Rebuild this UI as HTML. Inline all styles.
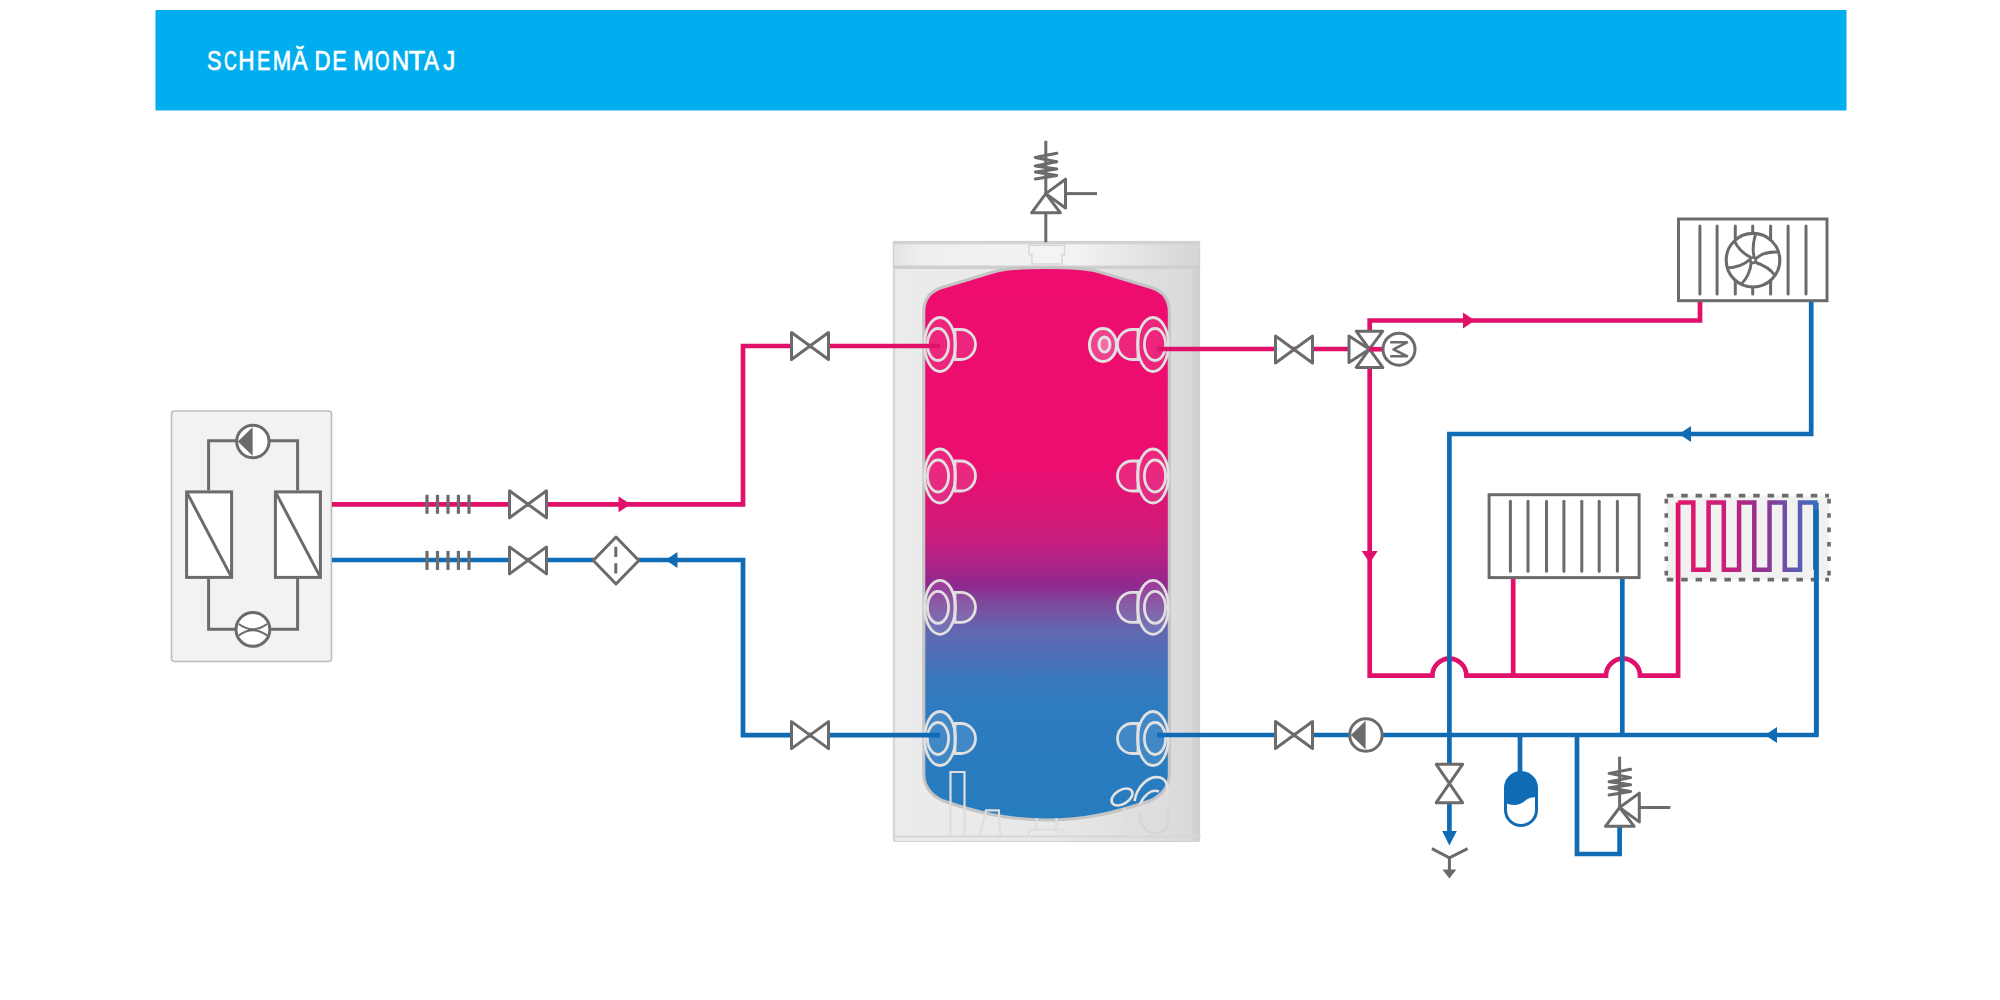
<!DOCTYPE html>
<html><head><meta charset="utf-8">
<style>html,body{margin:0;padding:0;background:#fff;width:2000px;height:1000px;overflow:hidden}svg{display:block}</style>
</head><body>
<svg width="2000" height="1000" viewBox="0 0 2000 1000">
<defs>
<linearGradient id="tankgrad" gradientUnits="userSpaceOnUse" x1="0" y1="269" x2="0" y2="818.5">
<stop offset="0" stop-color="#EE0D6E"/>
<stop offset="0.36" stop-color="#EB0E70"/>
<stop offset="0.46" stop-color="#D31A78"/>
<stop offset="0.5" stop-color="#C21F80"/>
<stop offset="0.54" stop-color="#AB2387"/>
<stop offset="0.577" stop-color="#8F298F"/>
<stop offset="0.61" stop-color="#7C4A9C"/>
<stop offset="0.66" stop-color="#6168B2"/>
<stop offset="0.75" stop-color="#3878BD"/>
<stop offset="0.8" stop-color="#2E7BC0"/>
<stop offset="1" stop-color="#257CBF"/>
</linearGradient>
<linearGradient id="tankbody" gradientUnits="userSpaceOnUse" x1="893.5" y1="0" x2="1200.5" y2="0">
<stop offset="0" stop-color="#D2D2D2"/>
<stop offset="0.008" stop-color="#ECECEC"/>
<stop offset="0.09" stop-color="#EBEBEB"/>
<stop offset="0.5" stop-color="#E8E8E8"/>
<stop offset="0.904" stop-color="#DCDCDE"/>
<stop offset="0.968" stop-color="#DADADA"/>
<stop offset="0.975" stop-color="#D3D3D3"/>
<stop offset="1" stop-color="#D0D0D0"/>
</linearGradient>
<linearGradient id="tanklid" gradientUnits="userSpaceOnUse" x1="893.5" y1="0" x2="1200.5" y2="0">
<stop offset="0" stop-color="#E4E4E4"/>
<stop offset="0.1" stop-color="#EFEFEF"/>
<stop offset="0.6" stop-color="#F3F3F3"/>
<stop offset="0.92" stop-color="#DADADA"/>
<stop offset="1" stop-color="#D6D6D6"/>
</linearGradient>
<linearGradient id="fh" gradientUnits="userSpaceOnUse" x1="1678" y1="0" x2="1816" y2="0">
<stop offset="0" stop-color="#E3166A"/>
<stop offset="0.35" stop-color="#C81F7A"/>
<stop offset="0.6" stop-color="#95308E"/>
<stop offset="0.85" stop-color="#6259B0"/>
<stop offset="1" stop-color="#3A6DBB"/>
</linearGradient>
</defs>
<rect x="155.5" y="10" width="1691" height="100.5" fill="#00AEEF"/>
<g font-family="Liberation Sans, sans-serif" font-size="27.6" fill="#fff" stroke="#fff" stroke-width="0.7">
<text transform="translate(206.93,70.4) scale(0.785,1)">S</text>
<text transform="translate(223.92,70.4) scale(0.639,1)">C</text>
<text transform="translate(238.15,70.4) scale(0.817,1)">H</text>
<text transform="translate(256.95,70.4) scale(0.727,1)">E</text>
<text transform="translate(272.69,70.4) scale(0.802,1)">M</text>
<text transform="translate(291.95,70.4) scale(0.847,1)">Ă</text>
<text transform="translate(314.57,70.4) scale(0.807,1)">D</text>
<text transform="translate(332.22,70.4) scale(0.787,1)">E</text>
<text transform="translate(352.94,70.4) scale(0.910,1)">M</text>
<text transform="translate(375.02,70.4) scale(0.679,1)">O</text>
<text transform="translate(391.82,70.4) scale(0.875,1)">N</text>
<text transform="translate(408.40,70.4) scale(0.992,1)">T</text>
<text transform="translate(423.96,70.4) scale(0.809,1)">A</text>
<text transform="translate(443.14,70.4) scale(0.873,1)">J</text>
</g>
<rect x="171.5" y="411" width="160" height="250.5" rx="3" fill="#F2F2F2" stroke="#BDBDBD" stroke-width="1.6"/>
<path d="M208.6,490.4 V440.8 H297.6 V490.4 M208.6,578.7 V629.2 H297.6 V578.7" fill="none" stroke="#6B6B6B" stroke-width="3"/>
<rect x="186.6" y="491.9" width="45" height="85.5" fill="#fff" stroke="#6B6B6B" stroke-width="3"/>
<line x1="186.6" y1="491.9" x2="231.6" y2="577.4" stroke="#6B6B6B" stroke-width="3"/>
<rect x="275.4" y="491.9" width="45" height="85.5" fill="#fff" stroke="#6B6B6B" stroke-width="3"/>
<line x1="275.4" y1="491.9" x2="320.4" y2="577.4" stroke="#6B6B6B" stroke-width="3"/>
<circle cx="252.9" cy="441.5" r="16.2" fill="#fff" stroke="#6B6B6B" stroke-width="3"/>
<polygon points="252.6,427.2 252.6,455.8 237.9,441.5" fill="#6B6B6B"/>
<circle cx="252.9" cy="629.4" r="16.9" fill="#fff" stroke="#6B6B6B" stroke-width="3"/>
<path d="M238.8,624 Q252.9,634.5 267,624 M238.8,635.4 Q252.9,625 267,635.4" fill="none" stroke="#6B6B6B" stroke-width="2"/>
<rect x="893.5" y="241.5" width="306" height="600" rx="2" fill="url(#tankbody)" stroke="#D0D0D0" stroke-width="1.2"/>
<rect x="893.5" y="241.5" width="306" height="25" fill="url(#tanklid)" stroke="#D0D0D0" stroke-width="1.2"/>
<line x1="894" y1="267.3" x2="1200" y2="267.3" stroke="#CFCFCF" stroke-width="3.4"/>
<line x1="894" y1="243" x2="1200" y2="243" stroke="#D2D2D2" stroke-width="2.4"/>
<line x1="893.5" y1="836.5" x2="1200.5" y2="836.5" stroke="#D6D6D6" stroke-width="2"/>
<path d="M1029,245.3 H1064.5 V254.6 H1062 V264 H1032 V254.6 H1029 Z" fill="#F4F4F4" stroke="#D8D8D8" stroke-width="1.5"/>
<path d="M923.8,312 Q923.8,293 942.0,287.5 L995.0,271.5 Q1010.0,267.5 1046.55,267.5 Q1083.1,267.5 1098.1,271.5 L1151.1,287.5 Q1169.3,293 1169.3,312 V773.5 Q1169.3,791.5 1150.8,800.5 C1115.8,812.5 1085.8,820 1046.55,820 C1007.3,820 977.3,812.5 942.3,800.5 Q923.8,791.5 923.8,773.5 Z" fill="url(#tankgrad)" stroke="#C4C4C4" stroke-width="3"/>
<path d="M950.5,836 V772 H964.5 V836 M979.6,836 L986,810.4 H998.8 L1000.4,836 M1036.4,818 V829.6 M1056.4,818 V829.6 M1029,837 V829.6 H1064 V837 M1124,808 L1131,836" fill="none" stroke="#DEDEDE" stroke-width="2.2"/>
<path d="M1140,812 C1138,828 1150,836 1162,832 C1170,828 1170,815 1166,808" fill="none" stroke="#D6D6D6" stroke-width="2.4"/>
<ellipse cx="1122" cy="797" rx="11.5" ry="7" transform="rotate(-32 1122 797)" fill="none" stroke="#E2E2E2" stroke-width="2.6"/>
<path d="M1134.5,801 C1137,786 1149,775 1160,777.5 C1168,780 1169,790 1166,796 M1140,804 C1145,794 1152,789 1159,791.5" fill="none" stroke="#E2E2E2" stroke-width="2.6"/>
<g transform="translate(940,344.5) scale(1,1)">
<path d="M15,-15 H21 A14.5,15 0 0 1 21,15 H15 Z" fill="rgba(255,255,255,0.1)" stroke="#E0E0E0" stroke-width="2.8"/>
<ellipse cx="0" cy="0" rx="15.4" ry="27" fill="rgba(255,255,255,0.1)" stroke="#E0E0E0" stroke-width="2.8"/>
<ellipse cx="-2" cy="0" rx="10.6" ry="16" fill="none" stroke="#E0E0E0" stroke-width="2.8"/>
</g>
<g transform="translate(1153,344.5) scale(-1,1)">
<path d="M15,-15 H21 A14.5,15 0 0 1 21,15 H15 Z" fill="rgba(255,255,255,0.1)" stroke="#E0E0E0" stroke-width="2.8"/>
<ellipse cx="0" cy="0" rx="15.4" ry="27" fill="rgba(255,255,255,0.1)" stroke="#E0E0E0" stroke-width="2.8"/>
<ellipse cx="-2" cy="0" rx="10.6" ry="16" fill="none" stroke="#E0E0E0" stroke-width="2.8"/>
</g>
<g transform="translate(940,476) scale(1,1)">
<path d="M15,-15 H21 A14.5,15 0 0 1 21,15 H15 Z" fill="rgba(255,255,255,0.1)" stroke="#E0E0E0" stroke-width="2.8"/>
<ellipse cx="0" cy="0" rx="15.4" ry="27" fill="rgba(255,255,255,0.1)" stroke="#E0E0E0" stroke-width="2.8"/>
<ellipse cx="-2" cy="0" rx="10.6" ry="16" fill="none" stroke="#E0E0E0" stroke-width="2.8"/>
</g>
<g transform="translate(1153,476) scale(-1,1)">
<path d="M15,-15 H21 A14.5,15 0 0 1 21,15 H15 Z" fill="rgba(255,255,255,0.1)" stroke="#E0E0E0" stroke-width="2.8"/>
<ellipse cx="0" cy="0" rx="15.4" ry="27" fill="rgba(255,255,255,0.1)" stroke="#E0E0E0" stroke-width="2.8"/>
<ellipse cx="-2" cy="0" rx="10.6" ry="16" fill="none" stroke="#E0E0E0" stroke-width="2.8"/>
</g>
<g transform="translate(940,607.3) scale(1,1)">
<path d="M15,-15 H21 A14.5,15 0 0 1 21,15 H15 Z" fill="rgba(255,255,255,0.1)" stroke="#E0E0E0" stroke-width="2.8"/>
<ellipse cx="0" cy="0" rx="15.4" ry="27" fill="rgba(255,255,255,0.1)" stroke="#E0E0E0" stroke-width="2.8"/>
<ellipse cx="-2" cy="0" rx="10.6" ry="16" fill="none" stroke="#E0E0E0" stroke-width="2.8"/>
</g>
<g transform="translate(1153,607.3) scale(-1,1)">
<path d="M15,-15 H21 A14.5,15 0 0 1 21,15 H15 Z" fill="rgba(255,255,255,0.1)" stroke="#E0E0E0" stroke-width="2.8"/>
<ellipse cx="0" cy="0" rx="15.4" ry="27" fill="rgba(255,255,255,0.1)" stroke="#E0E0E0" stroke-width="2.8"/>
<ellipse cx="-2" cy="0" rx="10.6" ry="16" fill="none" stroke="#E0E0E0" stroke-width="2.8"/>
</g>
<g transform="translate(940,738.5) scale(1,1)">
<path d="M15,-15 H21 A14.5,15 0 0 1 21,15 H15 Z" fill="rgba(255,255,255,0.1)" stroke="#E0E0E0" stroke-width="2.8"/>
<ellipse cx="0" cy="0" rx="15.4" ry="27" fill="rgba(255,255,255,0.1)" stroke="#E0E0E0" stroke-width="2.8"/>
<ellipse cx="-2" cy="0" rx="10.6" ry="16" fill="none" stroke="#E0E0E0" stroke-width="2.8"/>
</g>
<g transform="translate(1153,738.5) scale(-1,1)">
<path d="M15,-15 H21 A14.5,15 0 0 1 21,15 H15 Z" fill="rgba(255,255,255,0.1)" stroke="#E0E0E0" stroke-width="2.8"/>
<ellipse cx="0" cy="0" rx="15.4" ry="27" fill="rgba(255,255,255,0.1)" stroke="#E0E0E0" stroke-width="2.8"/>
<ellipse cx="-2" cy="0" rx="10.6" ry="16" fill="none" stroke="#E0E0E0" stroke-width="2.8"/>
</g>
<ellipse cx="1103" cy="345" rx="13.5" ry="16.5" fill="rgba(255,255,255,0.22)" stroke="#E2E2E2" stroke-width="3"/>
<ellipse cx="1104.5" cy="344.5" rx="5.5" ry="7.5" fill="rgba(255,255,255,0.22)" stroke="#E2E2E2" stroke-width="3"/>
<path d="M332,504.3 H743 V346 H940" fill="none" stroke="#E0116A" stroke-width="4.7" stroke-linejoin="miter"/>
<path d="M332,560 H743 V735.1 H940" fill="none" stroke="#0F6CB4" stroke-width="4.7" stroke-linejoin="miter"/>
<line x1="427" y1="494.8" x2="427" y2="513.8" stroke="#6B6B6B" stroke-width="3.2"/>
<line x1="437.5" y1="494.8" x2="437.5" y2="513.8" stroke="#6B6B6B" stroke-width="3.2"/>
<line x1="448" y1="494.8" x2="448" y2="513.8" stroke="#6B6B6B" stroke-width="3.2"/>
<line x1="458.4" y1="494.8" x2="458.4" y2="513.8" stroke="#6B6B6B" stroke-width="3.2"/>
<line x1="469" y1="494.8" x2="469" y2="513.8" stroke="#6B6B6B" stroke-width="3.2"/>
<line x1="427" y1="550.9" x2="427" y2="569.9" stroke="#6B6B6B" stroke-width="3.2"/>
<line x1="437.5" y1="550.9" x2="437.5" y2="569.9" stroke="#6B6B6B" stroke-width="3.2"/>
<line x1="448" y1="550.9" x2="448" y2="569.9" stroke="#6B6B6B" stroke-width="3.2"/>
<line x1="458.4" y1="550.9" x2="458.4" y2="569.9" stroke="#6B6B6B" stroke-width="3.2"/>
<line x1="469" y1="550.9" x2="469" y2="569.9" stroke="#6B6B6B" stroke-width="3.2"/>
<path d="M509.5,490.8 L546.5,517.8 L546.5,490.8 L509.5,517.8 Z" fill="#fff" stroke="#6B6B6B" stroke-width="3" stroke-linejoin="round"/>
<path d="M509.5,546.9 L546.5,573.9 L546.5,546.9 L509.5,573.9 Z" fill="#fff" stroke="#6B6B6B" stroke-width="3" stroke-linejoin="round"/>
<polygon points="618.5,496.3 630.5,504.3 618.5,512.3" fill="#E0116A"/>
<polygon points="677.5,552 665.5,560 677.5,568" fill="#0F6CB4"/>
<path d="M593.3,560.5 L616,537 L638.8,560.5 L616,584 Z" fill="#fff" stroke="#6B6B6B" stroke-width="3" stroke-linejoin="round"/>
<line x1="615.8" y1="546.8" x2="615.8" y2="573.5" stroke="#6B6B6B" stroke-width="3" stroke-dasharray="10.2 6.3"/>
<path d="M791.5,332.5 L828.5,359.5 L828.5,332.5 L791.5,359.5 Z" fill="#fff" stroke="#6B6B6B" stroke-width="3" stroke-linejoin="round"/>
<path d="M791.5,721.6 L828.5,748.6 L828.5,721.6 L791.5,748.6 Z" fill="#fff" stroke="#6B6B6B" stroke-width="3" stroke-linejoin="round"/>
<rect x="1666.3" y="495.6" width="162.7" height="84" fill="#F1F1F1" stroke="none"/>
<path d="M1666.3,495.6 H1829 M1666.3,579.6 H1829" fill="none" stroke="#6B6B6B" stroke-width="3.6" stroke-dasharray="6.5 7.9" stroke-dashoffset="-0.5"/>
<path d="M1666.3,495.6 V579.6 M1829,495.6 V579.6" fill="none" stroke="#6B6B6B" stroke-width="3.6" stroke-dasharray="4.6 9.8" stroke-dashoffset="-3.2"/>
<path d="M1157,349 H1369.7" fill="none" stroke="#E0116A" stroke-width="4.7" stroke-linejoin="miter"/>
<path d="M1369.7,330 V320.5 H1700 V302" fill="none" stroke="#E0116A" stroke-width="4.7" stroke-linejoin="miter"/>
<path d="M1369.7,368 V675.6 H1432.4 A17,17 0 0 1 1466.4,675.6 H1606 A17,17 0 0 1 1640,675.6 H1678.1 V502.6" fill="none" stroke="#E0116A" stroke-width="4.7" stroke-linejoin="miter"/>
<path d="M1513.2,675.6 V577.6" fill="none" stroke="#E0116A" stroke-width="4.7" stroke-linejoin="miter"/>
<polygon points="1463.0,312.5 1475.0,320.5 1463.0,328.5" fill="#E0116A"/>
<polygon points="1361.7,551.0 1369.7,563.0 1377.7,551.0" fill="#E0116A"/>
<path d="M1811.2,302 V434 H1449.4 V764" fill="none" stroke="#0F6CB4" stroke-width="4.7" stroke-linejoin="miter"/>
<polygon points="1691.0,426 1679.0,434 1691.0,442" fill="#0F6CB4"/>
<path d="M1157,735 H1816.3 V502.6" fill="none" stroke="#0F6CB4" stroke-width="4.7" stroke-linejoin="miter"/>
<path d="M1622.3,577.6 V735" fill="none" stroke="#0F6CB4" stroke-width="4.7" stroke-linejoin="miter"/>
<polygon points="1777.0,727 1765.0,735 1777.0,743" fill="#0F6CB4"/>
<path d="M1520,735 V772" fill="none" stroke="#0F6CB4" stroke-width="4.7" stroke-linejoin="miter"/>
<path d="M1577,735 V854 H1619.6 V826" fill="none" stroke="#0F6CB4" stroke-width="4.7" stroke-linejoin="miter"/>
<path d="M1449.4,803 V832" fill="none" stroke="#0F6CB4" stroke-width="4.7" stroke-linejoin="miter"/>
<polygon points="1442.2,831 1456.8,831 1449.4,845.5" fill="#0F6CB4"/>
<path d="M1275.5,336.0 L1312.5,363.0 L1312.5,336.0 L1275.5,363.0 Z" fill="#fff" stroke="#6B6B6B" stroke-width="3" stroke-linejoin="round"/>
<path d="M1275.5,721.5 L1312.5,748.5 L1312.5,721.5 L1275.5,748.5 Z" fill="#fff" stroke="#6B6B6B" stroke-width="3" stroke-linejoin="round"/>
<polygon points="1349,336 1349,362.4 1369.4,349.2" fill="#fff" stroke="#6B6B6B" stroke-width="3" stroke-linejoin="round"/>
<polygon points="1356.2,331.2 1382.8,331.2 1369.4,349.2 1356.2,367.4 1382.8,367.4 1369.4,349.2" fill="#fff" stroke="#6B6B6B" stroke-width="3" stroke-linejoin="round"/>
<path d="M1369.4,349.2 H1382" fill="none" stroke="#E0116A" stroke-width="4.7" stroke-linejoin="miter"/>
<circle cx="1399" cy="349.2" r="16" fill="#fff" stroke="#6B6B6B" stroke-width="3"/>
<path d="M1390.2,342.3 H1407 L1393.5,349.3 L1407,356.2 H1390.2" fill="none" stroke="#6B6B6B" stroke-width="2.6" stroke-linejoin="round"/>
<circle cx="1365.9" cy="735" r="16.2" fill="#fff" stroke="#6B6B6B" stroke-width="3"/>
<polygon points="1365.6,720.7 1365.6,749.3 1350.9,735" fill="#6B6B6B"/>
<path d="M1436.2,764.3 L1462.6000000000001,802.7 L1436.2,802.7 L1462.6000000000001,764.3 Z" fill="#fff" stroke="#6B6B6B" stroke-width="3" stroke-linejoin="round"/>
<path d="M1431.9,848.7 L1449.4,857.8 L1467.6,848.7 M1449.4,857.8 V871" fill="none" stroke="#6B6B6B" stroke-width="3"/>
<polygon points="1442.4,869.5 1456.4,869.5 1449.4,878.5" fill="#6B6B6B"/>
<rect x="1505.5" y="772.5" width="31" height="53" rx="15.5" fill="#fff" stroke="#0F6CB4" stroke-width="3"/>
<path d="M1505.5,803 C1512,806 1520,806 1526,800 C1530,797 1534,797 1536.5,797.5 V788 A15.5,15.5 0 0 0 1505.5,788 Z" fill="#0F6CB4"/>
<line x1="1619.6" y1="756.7" x2="1619.6" y2="807.5" stroke="#6B6B6B" stroke-width="3"/>
<polyline points="1630.6,769.2 1609.1,773.4 1630.6,777.6 1609.1,781.8 1630.6,784.8 1609.1,787.8 1630.6,791.4 1609.1,795.0" fill="none" stroke="#6B6B6B" stroke-width="3" stroke-linecap="round" stroke-linejoin="round"/>
<polygon points="1605.3999999999999,826.3 1634.1999999999998,826.3 1619.6,807.5" fill="#fff" stroke="#6B6B6B" stroke-width="3" stroke-linejoin="round"/>
<polygon points="1619.6,807.5 1639.3,793.1 1639.3,821.9" fill="#fff" stroke="#6B6B6B" stroke-width="3" stroke-linejoin="round"/>
<line x1="1639.3" y1="807.5" x2="1670.4" y2="807.5" stroke="#6B6B6B" stroke-width="3"/>
<line x1="1045.8" y1="140.8" x2="1045.8" y2="193.6" stroke="#6B6B6B" stroke-width="3"/>
<polyline points="1056.8,153.3 1035.3,157.5 1056.8,161.7 1035.3,165.9 1056.8,168.9 1035.3,171.9 1056.8,175.5 1035.3,179.1" fill="none" stroke="#6B6B6B" stroke-width="3" stroke-linecap="round" stroke-linejoin="round"/>
<polygon points="1031.6,212.8 1060.3999999999999,212.8 1045.8,193.6" fill="#fff" stroke="#6B6B6B" stroke-width="3" stroke-linejoin="round"/>
<polygon points="1045.8,193.6 1065.5,179.2 1065.5,208.0" fill="#fff" stroke="#6B6B6B" stroke-width="3" stroke-linejoin="round"/>
<line x1="1065.5" y1="193.6" x2="1097" y2="193.6" stroke="#6B6B6B" stroke-width="3"/>
<line x1="1045.8" y1="212.8" x2="1045.8" y2="242.2" stroke="#6B6B6B" stroke-width="3"/>
<rect x="1678.5" y="219" width="148.5" height="81.7" fill="#fff" stroke="#6B6B6B" stroke-width="3"/>
<line x1="1699.9" y1="226" x2="1699.9" y2="294" stroke="#6B6B6B" stroke-width="3" stroke-linecap="round"/>
<line x1="1717.1" y1="226" x2="1717.1" y2="294" stroke="#6B6B6B" stroke-width="3" stroke-linecap="round"/>
<line x1="1735.3" y1="226" x2="1735.3" y2="294" stroke="#6B6B6B" stroke-width="3" stroke-linecap="round"/>
<line x1="1752.7" y1="226" x2="1752.7" y2="294" stroke="#6B6B6B" stroke-width="3" stroke-linecap="round"/>
<line x1="1770.6" y1="226" x2="1770.6" y2="294" stroke="#6B6B6B" stroke-width="3" stroke-linecap="round"/>
<line x1="1788.1" y1="226" x2="1788.1" y2="294" stroke="#6B6B6B" stroke-width="3" stroke-linecap="round"/>
<line x1="1806" y1="226" x2="1806" y2="294" stroke="#6B6B6B" stroke-width="3" stroke-linecap="round"/>
<circle cx="1753" cy="260.2" r="26.8" fill="#fff" stroke="#6B6B6B" stroke-width="3.1"/>
<path d="M1754.50,257.70 Q1751.25,248.65 1755.80,233.40 M1750.70,257.40 Q1739.70,251.80 1734.30,240.80 M1749.80,259.70 Q1740.40,267.90 1727.10,267.90 M1751.20,262.60 Q1750.20,274.90 1741.00,284.60 M1755.80,262.50 Q1768.40,266.50 1775.20,275.70 M1755.90,258.70 Q1763.85,251.10 1778.80,252.10" fill="none" stroke="#6B6B6B" stroke-width="2.9"/>
<circle cx="1753" cy="260.2" r="2.7" fill="#fff" stroke="#6B6B6B" stroke-width="2.6"/>
<rect x="1489.1" y="494.7" width="150" height="82.9" fill="#fff" stroke="#6B6B6B" stroke-width="3"/>
<line x1="1510.4" y1="501.2" x2="1510.4" y2="571.2" stroke="#6B6B6B" stroke-width="3" stroke-linecap="round"/>
<line x1="1528" y1="501.2" x2="1528" y2="571.2" stroke="#6B6B6B" stroke-width="3" stroke-linecap="round"/>
<line x1="1546.5" y1="501.2" x2="1546.5" y2="571.2" stroke="#6B6B6B" stroke-width="3" stroke-linecap="round"/>
<line x1="1563.9" y1="501.2" x2="1563.9" y2="571.2" stroke="#6B6B6B" stroke-width="3" stroke-linecap="round"/>
<line x1="1581.8" y1="501.2" x2="1581.8" y2="571.2" stroke="#6B6B6B" stroke-width="3" stroke-linecap="round"/>
<line x1="1599.2" y1="501.2" x2="1599.2" y2="571.2" stroke="#6B6B6B" stroke-width="3" stroke-linecap="round"/>
<line x1="1617.4" y1="501.2" x2="1617.4" y2="571.2" stroke="#6B6B6B" stroke-width="3" stroke-linecap="round"/>
<path d="M1678.10,502.6 H1693.34 V569.8 H1708.58 V502.6 H1723.82 V569.8 H1739.06 V502.6 H1754.30 V569.8 H1769.54 V502.6 H1784.78 V569.8 H1800.02 V502.6 H1815.26 V569.8" fill="none" stroke="url(#fh)" stroke-width="4.5"/>
<path d="M1816.3,735 V510" fill="none" stroke="#0F6CB4" stroke-width="4.7" stroke-linejoin="miter"/>
</svg>
</body></html>
